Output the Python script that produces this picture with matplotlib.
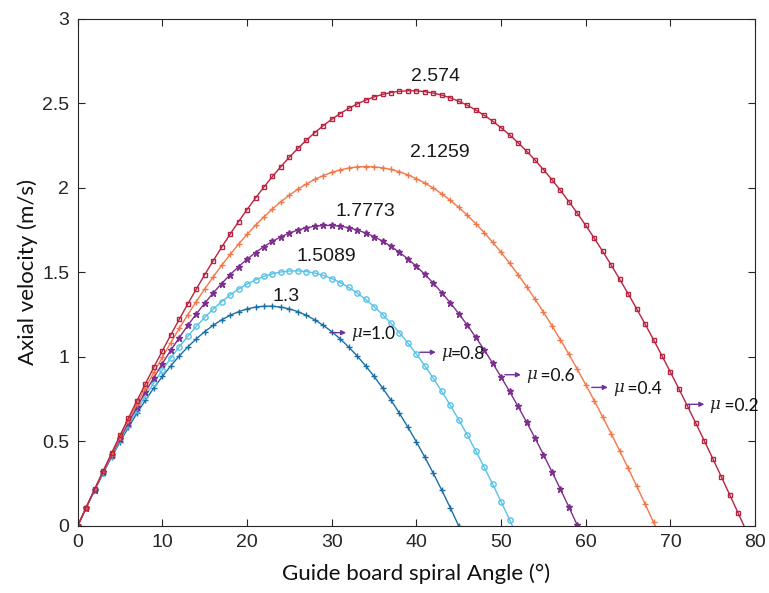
import matplotlib
matplotlib.use("Agg")
import matplotlib.pyplot as plt

# axial velocity (m/s) at each spiral angle (deg)
v_10 = [0, .1077, .2115, .3112, .4066, .4978, .5845, .6667, .7442, .8171,
        .8850, .9481, 1.0062, 1.0592, 1.1072, 1.1499, 1.1874, 1.2197, 1.2466, 1.2682,
        1.2844, 1.2952, 1.3006, 1.3006, 1.2952, 1.2844, 1.2682, 1.2466, 1.2197, 1.1874,
        1.1499, 1.1072, 1.0592, 1.0062, .9481, .8850, .8171, .7442, .6667, .5845,
        .4978, .4066, .3112, .2115, .1077, 0]
v_08 = [0, .1081, .2130, .3146, .4128, .5074, .5983, .6854, .7686, .8478,
        .9229, .9938, 1.0605, 1.1228, 1.1807, 1.2341, 1.2829, 1.3271, 1.3666, 1.4014,
        1.4314, 1.4566, 1.4770, 1.4925, 1.5031, 1.5088, 1.5097, 1.5056, 1.4966, 1.4828,
        1.4641, 1.4405, 1.4121, 1.3790, 1.3410, 1.2984, 1.2512, 1.1994, 1.1430, 1.0822,
        1.0170, .9475, .8738, .7960, .7141, .6283, .5387, .4453, .3484, .2480,
        .1442, .0371, 0]
v_06 = [0, .1085, .2146, .3181, .4189, .5169, .6120, .7040, .7929, .8786,
        .9608, 1.0396, 1.1149, 1.1864, 1.2543, 1.3183, 1.3784, 1.4345, 1.4866, 1.5346,
        1.5784, 1.6180, 1.6533, 1.6843, 1.7110, 1.7333, 1.7511, 1.7646, 1.7736, 1.7782,
        1.7782, 1.7738, 1.7650, 1.7517, 1.7340, 1.7119, 1.6854, 1.6545, 1.6193, 1.5799,
        1.5362, 1.4884, 1.4365, 1.3805, 1.3205, 1.2566, 1.1889, 1.1175, 1.0424, .9637,
        .8816, .7961, .7073, .6154, .5204, .4225, .3217, .2184, .1124, .0040, 0]
v_04 = [0, .1089, .2161, .3215, .4250, .5265, .6257, .7227, .8173, .9093,
        .9987, 1.0854, 1.1692, 1.2500, 1.3278, 1.4024, 1.4739, 1.5419, 1.6066, 1.6678,
        1.7254, 1.7794, 1.8296, 1.8762, 1.9189, 1.9577, 1.9926, 2.0236, 2.0506, 2.0735,
        2.0924, 2.1072, 2.1179, 2.1245, 2.1269, 2.1253, 2.1195, 2.1096, 2.0957, 2.0776,
        2.0554, 2.0293, 1.9991, 1.9650, 1.9269, 1.8850, 1.8392, 1.7896, 1.7364, 1.6795,
        1.6190, 1.5550, 1.4876, 1.4169, 1.3429, 1.2657, 1.1854, 1.1022, 1.0161, .9273,
        .8358, .7417, .6452, .5463, .4453, .3422, .2372, .1303, .0218, 0]
v_02 = [0, .1093, .2176, .3250, .4311, .5360, .6394, .7414, .8416, .9401,
        1.0366, 1.1311, 1.2235, 1.3136, 1.4013, 1.4866, 1.5693, 1.6493, 1.7266, 1.8010,
        1.8724, 1.9407, 2.0060, 2.0680, 2.1268, 2.1822, 2.2341, 2.2826, 2.3275, 2.3689,
        2.4065, 2.4405, 2.4707, 2.4972, 2.5199, 2.5387, 2.5537, 2.5648, 2.5720, 2.5753,
        2.5747, 2.5701, 2.5617, 2.5494, 2.5333, 2.5133, 2.4894, 2.4618, 2.4304, 2.3953,
        2.3564, 2.3140, 2.2680, 2.2184, 2.1654, 2.1089, 2.0491, 1.9861, 1.9199, 1.8506,
        1.7782, 1.7030, 1.6248, 1.5440, 1.4605, 1.3744, 1.2859, 1.1951, 1.1020, 1.0069,
        .9098, .8107, .7100, .6075, .5036, .3983, .2918, .1841, .0755, 0]

# angles: one marker per degree, last point is where the curve hits zero
a_10 = list(range(46))
a_08 = list(range(52)) + [51.34]
a_06 = list(range(60)) + [59.04]
a_04 = list(range(69)) + [68.2]
a_02 = list(range(79)) + [78.69]

mu_labels = ["=1.0", "=0.8", " =0.6", " =0.4", " =0.2"]
peak_labels = ["1.3", "1.5089", "1.7773", "2.1259", "2.574"]

series = [
    (a_10, v_10, "#1a6fa6", "+", "#1a6fa6", 5),
    (a_08, v_08, "#55c3ea", "o", "none", 3.8),
    (a_06, v_06, "#7e2f8e", "*", "#7e2f8e", 4.5),
    (a_04, v_04, "#f2784a", "+", "#f2784a", 3.8),
    (a_02, v_02, "#b82440", "s", "none", 3.2),
]

fig = plt.figure(figsize=(7.69, 5.93), dpi=100)
ax = fig.add_axes([0.101, 0.113, 0.881, 0.855])

for a, v, c, m, mfc, ms in series:
    n = len(a)
    if n == a[-1] + 1:
        every = list(range(n))
    else:
        every = list(range(n - 1))
    ax.plot(a, v, color=c, lw=1.0, marker=m, ms=ms, mfc=mfc, mec=c, mew=1.0,
            markevery=every)

# peak value labels
peak_pos = [(24.55, 1.357), (29.4, 1.593), (34.0, 1.86), (42.8, 2.209), (42.2, 2.659)]
for (x, y), t in zip(peak_pos, peak_labels):
    ax.text(x, y, t, ha="center", va="center", fontsize=14,
            family="Liberation Sans", color="#1a1a1a")

# friction coefficient tags with little arrows
tag_pos = [(29.8, 1.144), (40.4, 1.028), (50.45, 0.895), (60.7, 0.82), (72.1, 0.72)]
for (x, y), t in zip(tag_pos, mu_labels):
    ax.annotate("", xy=(x + 1.9, y), xytext=(x, y),
                arrowprops=dict(arrowstyle="-|>", color="#7030a0", lw=1.0,
                                mutation_scale=7, shrinkA=0, shrinkB=0))
    ax.text(x + 2.5, y, "\u03bc", ha="left", va="center", fontsize=12,
            family="DejaVu Serif", style="italic", color="#222222")
    ax.text(x + 3.7, y - 0.01, t, ha="left", va="center", fontsize=12.5,
            family="Lato", color="#111111")

ax.set_xlim(0, 80)
ax.set_ylim(0, 3)
ax.set_xticks(range(0, 81, 10))
ax.set_yticks([0, 0.5, 1, 1.5, 2, 2.5, 3])
ax.set_yticklabels(["0", "0.5", "1", "1.5", "2", "2.5", "3"])
ax.tick_params(direction="in", length=5, width=0.8, top=True, right=True,
               labelsize=14, colors="#262626", pad=6)
for lab in ax.get_xticklabels() + ax.get_yticklabels():
    lab.set_family("Liberation Sans")
for s in ax.spines.values():
    s.set_color("#262626")
    s.set_linewidth(0.8)

ax.set_xlabel("Guide board spiral Angle (\u00b0)", fontsize=16, family="Lato",
              color="#111111", labelpad=9)
ax.set_ylabel("Axial velocity (m/s)", fontsize=16, family="Lato",
              color="#111111", labelpad=3)

fig.savefig("out.png", dpi=100)
